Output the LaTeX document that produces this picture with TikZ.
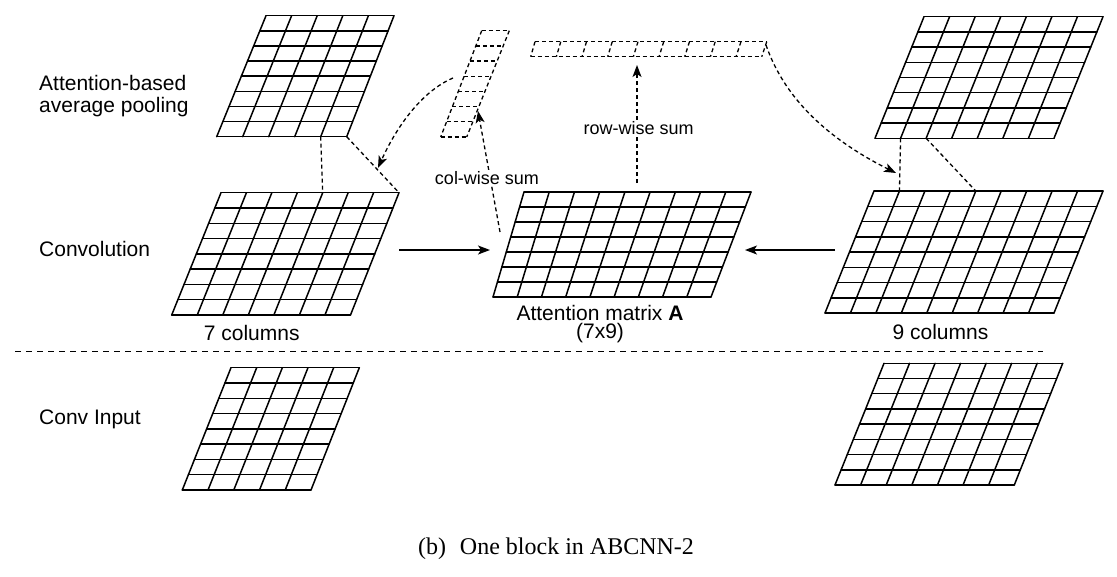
\documentclass[tikz,border=0pt]{standalone}
\usepackage{fontspec}
\setmainfont{Liberation Sans}
\newfontfamily\capfont{Liberation Serif}
\usetikzlibrary{calc,arrows.meta}

\tikzset{
  gridline/.style={line width=1.5pt, line cap=round, line join=round},
  dashline/.style={line width=1.3pt, dash pattern=on 4pt off 3pt},
  sepline/.style={line width=1.3pt, dash pattern=on 6pt off 5pt},
  arrowtip/.style={-{Stealth[length=12pt,width=9pt,inset=3pt]}},
  lbl/.style={font=\fontsize{21}{24}\selectfont, inner sep=0pt},
  smlbl/.style={font=\fontsize{18}{20}\selectfont, inner sep=1.5pt, fill=white},
}

% #1 name, #2 columns, #3 rows, #4 style
\newcommand{\mygrid}[4]{%
  \foreach \i [evaluate=\i as \f using \i/#3] in {0,...,#3} {%
    \draw[#4] ($(#1-tl)!\f!(#1-bl)$) -- ($(#1-tr)!\f!(#1-br)$);}
  \foreach \j [evaluate=\j as \g using \j/#2] in {0,...,#2} {%
    \draw[#4] ($(#1-tl)!\g!(#1-tr)$) -- ($(#1-bl)!\g!(#1-br)$);}
}

\begin{document}
\begin{tikzpicture}[x=1pt,y=-1pt]
\useasboundingbox (0,0) rectangle (1117,576);

% ---- grid corners ----
% left pooling
\coordinate (LP-tl) at (266,15.7);   \coordinate (LP-tr) at (394,15.7);
\coordinate (LP-bl) at (216.7,136.7);\coordinate (LP-br) at (346.7,136.7);
% left convolution
\coordinate (LC-tl) at (221,192.7);  \coordinate (LC-tr) at (399,192.7);
\coordinate (LC-bl) at (171.7,315);  \coordinate (LC-br) at (350.5,315);
% left input
\coordinate (LI-tl) at (231,367.7);  \coordinate (LI-tr) at (359.3,367.7);
\coordinate (LI-bl) at (182.3,490);  \coordinate (LI-br) at (311,490);
% attention matrix
\coordinate (AM-tl) at (524,192);    \coordinate (AM-tr) at (751,192);
\coordinate (AM-bl) at (493,297);    \coordinate (AM-br) at (711,297);
% right pooling
\coordinate (RP-tl) at (924,16.7);   \coordinate (RP-tr) at (1103,16.7);
\coordinate (RP-bl) at (875,138.3);  \coordinate (RP-br) at (1054,138.3);
% right convolution
\coordinate (RC-tl) at (874,191);    \coordinate (RC-tr) at (1103,191);
\coordinate (RC-bl) at (825,313);    \coordinate (RC-br) at (1054,313);
% right input
\coordinate (RI-tl) at (884,363.3);  \coordinate (RI-tr) at (1062.7,363.3);
\coordinate (RI-bl) at (835,485);    \coordinate (RI-br) at (1014.3,485);
% column vector (dashed)
\coordinate (CV-tl) at (481.7,30.7); \coordinate (CV-tr) at (509.3,30.7);
\coordinate (CV-bl) at (440.7,137);  \coordinate (CV-br) at (466.7,137);
% row vector (dashed)
\coordinate (RV-tl) at (535,41.7);   \coordinate (RV-tr) at (766.7,41.7);
\coordinate (RV-bl) at (530.7,56.7); \coordinate (RV-br) at (761.7,56.7);

% ---- grids ----
\mygrid{LP}{5}{8}{gridline}
\mygrid{LC}{7}{8}{gridline}
\mygrid{LI}{5}{8}{gridline}
\mygrid{AM}{9}{7}{gridline}
\mygrid{RP}{7}{8}{gridline}
\mygrid{RC}{9}{8}{gridline}
\mygrid{RI}{7}{8}{gridline}
\mygrid{CV}{1}{7}{dashline}
\mygrid{RV}{9}{1}{dashline}

% ---- pooling windows ----
\coordinate (LP-c4) at ($(LP-bl)!0.8!(LP-br)$);
\coordinate (LC-c4) at ($(LC-tl)!0.5714!(LC-tr)$);
\draw[dashline] (LP-c4) -- (LC-c4);
\draw[dashline] (LP-br) -- (LC-tr);
\coordinate (RP-c1) at ($(RP-bl)!0.1429!(RP-br)$);
\coordinate (RP-c2) at ($(RP-bl)!0.2857!(RP-br)$);
\coordinate (RC-c1) at ($(RC-tl)!0.1111!(RC-tr)$);
\coordinate (RC-c4) at ($(RC-tl)!0.4444!(RC-tr)$);
\draw[dashline] (RP-c1) -- (RC-c1);
\draw[dashline] (RP-c2) -- (RC-c4);

% ---- conv -> attention ----
\coordinate (LC-out) at (399,250);  \coordinate (AM-inL) at (490,250);
\coordinate (RC-out) at (835,250);  \coordinate (AM-inR) at (745,250);
\draw[line width=1.3pt, arrowtip] (LC-out) -- (AM-inL);
\draw[line width=1.3pt, arrowtip] (RC-out) -- (AM-inR);

% ---- sums ----
\coordinate (AM-cs) at (500,232);  \coordinate (CV-in) at (478,111);
\draw[dashline, arrowtip] (AM-cs) -- (CV-in);
\node[smlbl] (colsum) at (487,178.3) {col-wise sum};
\coordinate (AM-rs) at (637,183);  \coordinate (RV-in) at (637,65);
\draw[dashline, arrowtip] (AM-rs) -- (RV-in);
\node[smlbl] (rowsum) at (638.7,128.3) {row-wise sum};

% ---- attention weights back to convolution ----
\coordinate (CV-out) at (453,78);  \coordinate (LC-in) at (378,168);
\draw[dashline, arrowtip] (CV-out) .. controls (420,92) and (395,130) .. (LC-in);
\coordinate (RV-out) at (766,45);  \coordinate (RC-in) at (896,173);
\draw[dashline, arrowtip] (RV-out) .. controls (785,100) and (830,140) .. (RC-in);

% ---- separator ----
\coordinate (sepL) at (15,351.5);  \coordinate (sepR) at (1043,351.5);
\draw[sepline] (sepL) -- (sepR);

% ---- labels ----
\node[lbl, anchor=west, align=left, font=\fontsize{21}{22}\selectfont] (lpool) at (39,96.5) {Attention-based\\average pooling};
\node[lbl, anchor=west] (lconv) at (39,249) {Convolution};
\node[lbl, anchor=west] (linput) at (39,419) {Conv Input};
\node[lbl] (lcols) at (251.7,333) {7 columns};
\node[lbl] (rcols) at (940.5,331.7) {9 columns};
\node[lbl, font=\fontsize{21}{24}\selectfont] (amlbl) at (600,312.5) {Attention matrix \textbf{A}};
\node[lbl, font=\fontsize{21}{24}\selectfont] (amsize) at (600,333.5) {(7x9)};
\node[inner sep=0pt, font=\capfont\fontsize{24}{26}\selectfont] (caption) at (556,549) {(b)\hspace{14pt}One block in ABCNN-2};
\end{tikzpicture}
\end{document}
